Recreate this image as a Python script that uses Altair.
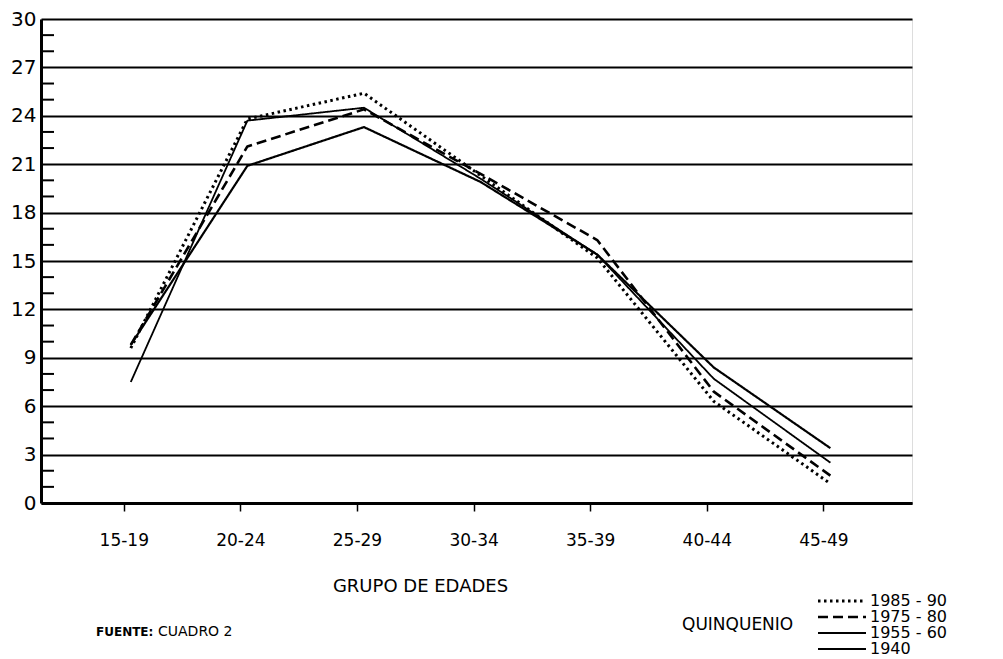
import altair as alt
import pandas as pd

grupos = ["15-19", "20-24", "25-29", "30-34", "35-39", "40-44", "45-49"]
series = ["1985 - 90", "1975 - 80", "1955 - 60", "1940"]
v1985 = [9.6, 23.8, 25.4, 20.3, 15.2, 6.3, 1.2]
v1975 = [9.8, 22.1, 24.4, 20.4, 16.3, 6.9, 1.7]
v1955 = [9.8, 20.9, 23.3, 19.9, 15.4, 8.4, 3.4]
v1940 = [7.5, 23.7, 24.5, 20.1, 15.4, 7.7, 2.5]
y_major = list(range(0, 31, 3))
y_minor = [v for v in range(1, 30) if v % 3]
fuente = ["FUENTE:", "CUADRO 2"]

rows = []
for name, vals in zip(series, [v1985, v1975, v1955, v1940]):
    for i, v in enumerate(vals):
        rows.append({"idx": i, "valor": v, "quinquenio": name})
df = pd.DataFrame(rows)

FONT = "DejaVu Sans"
label_expr = "[" + ",".join("'%s'" % g for g in grupos) + "][datum.value]"

leg = alt.Legend(
    title="QUINQUENIO", orient="none", legendX=641, legendY=574,
    titleOrient="left", titleFontSize=17, titleFontWeight="normal", titleColor="black",
    titleFont=FONT, titlePadding=40, titleAnchor="middle", titleBaseline="middle",
    labelFontSize=16, labelColor="black", labelFont=FONT, labelOffset=20,
    symbolType="M-4,0H4", symbolSize=144, symbolStrokeColor="black",
    symbolFillColor="transparent", rowPadding=0,
)

lines = alt.Chart(df).mark_line(color="black", strokeJoin="round").encode(
    x=alt.X("idx:Q",
            scale=alt.Scale(domain=[-0.77, 6.70], nice=False, zero=False),
            axis=alt.Axis(values=list(range(7)), labelExpr=label_expr, grid=False,
                          title="GRUPO DE EDADES", domainWidth=3, domainColor="black",
                          tickColor="black", tickWidth=1.5, tickSize=8,
                          tickOffset=-7, labelFontSize=17, labelFont=FONT,
                          labelColor="black", labelPadding=21, labelFlush=False,
                          titleFontSize=18, titleFontWeight="normal", titleFont=FONT,
                          titleColor="black", titleX=379, titleY=88, titleAlign="center",
                          titleBaseline="alphabetic")),
    y=alt.Y("valor:Q",
            scale=alt.Scale(domain=[0, 30], nice=False),
            axis=alt.Axis(values=y_major, grid=True, gridColor="black", gridWidth=2,
                          ticks=False, tickSize=0, domainWidth=3, domainColor="black",
                          labelFontSize=20, labelFont=FONT, labelColor="black",
                          labelPadding=5, title=None)),
    strokeDash=alt.StrokeDash("quinquenio:N",
                              scale=alt.Scale(domain=series,
                                              range=[[2.5, 3.5], [10, 5], [1, 0], [1, 0]]),
                              legend=leg),
    strokeWidth=alt.StrokeWidth("quinquenio:N",
                                scale=alt.Scale(domain=series, range=[3, 1.8, 1.3, 3.9]),
                                legend=leg),
)

minor = alt.Chart(pd.DataFrame({"valor": y_minor})).mark_rule(color="black", strokeWidth=2).encode(
    y=alt.Y("valor:Q"),
    x=alt.value(0), x2=alt.value(13),
)

fdf = pd.DataFrame({"t": fuente})
t1 = alt.Chart(fdf.iloc[[0]]).mark_text(font=FONT, fontSize=12, fontWeight="bold",
                                        align="left", baseline="middle", color="black").encode(
    text="t:N", x=alt.value(55), y=alt.value(613))
t2 = alt.Chart(fdf.iloc[[1]]).mark_text(font=FONT, fontSize=14, fontWeight="normal",
                                        align="left", baseline="middle", color="black").encode(
    text="t:N", x=alt.value(117), y=alt.value(613))

chart = alt.layer(minor, lines, t1, t2).properties(
    width=871, height=484,
    autosize=alt.AutoSizeParams(type="none"),
    padding={"left": 33, "top": 11, "right": 80, "bottom": 156},
).configure_view(stroke=None).configure(font=FONT)

chart.save("out.html", embed_options={"renderer": "svg", "actions": False})
